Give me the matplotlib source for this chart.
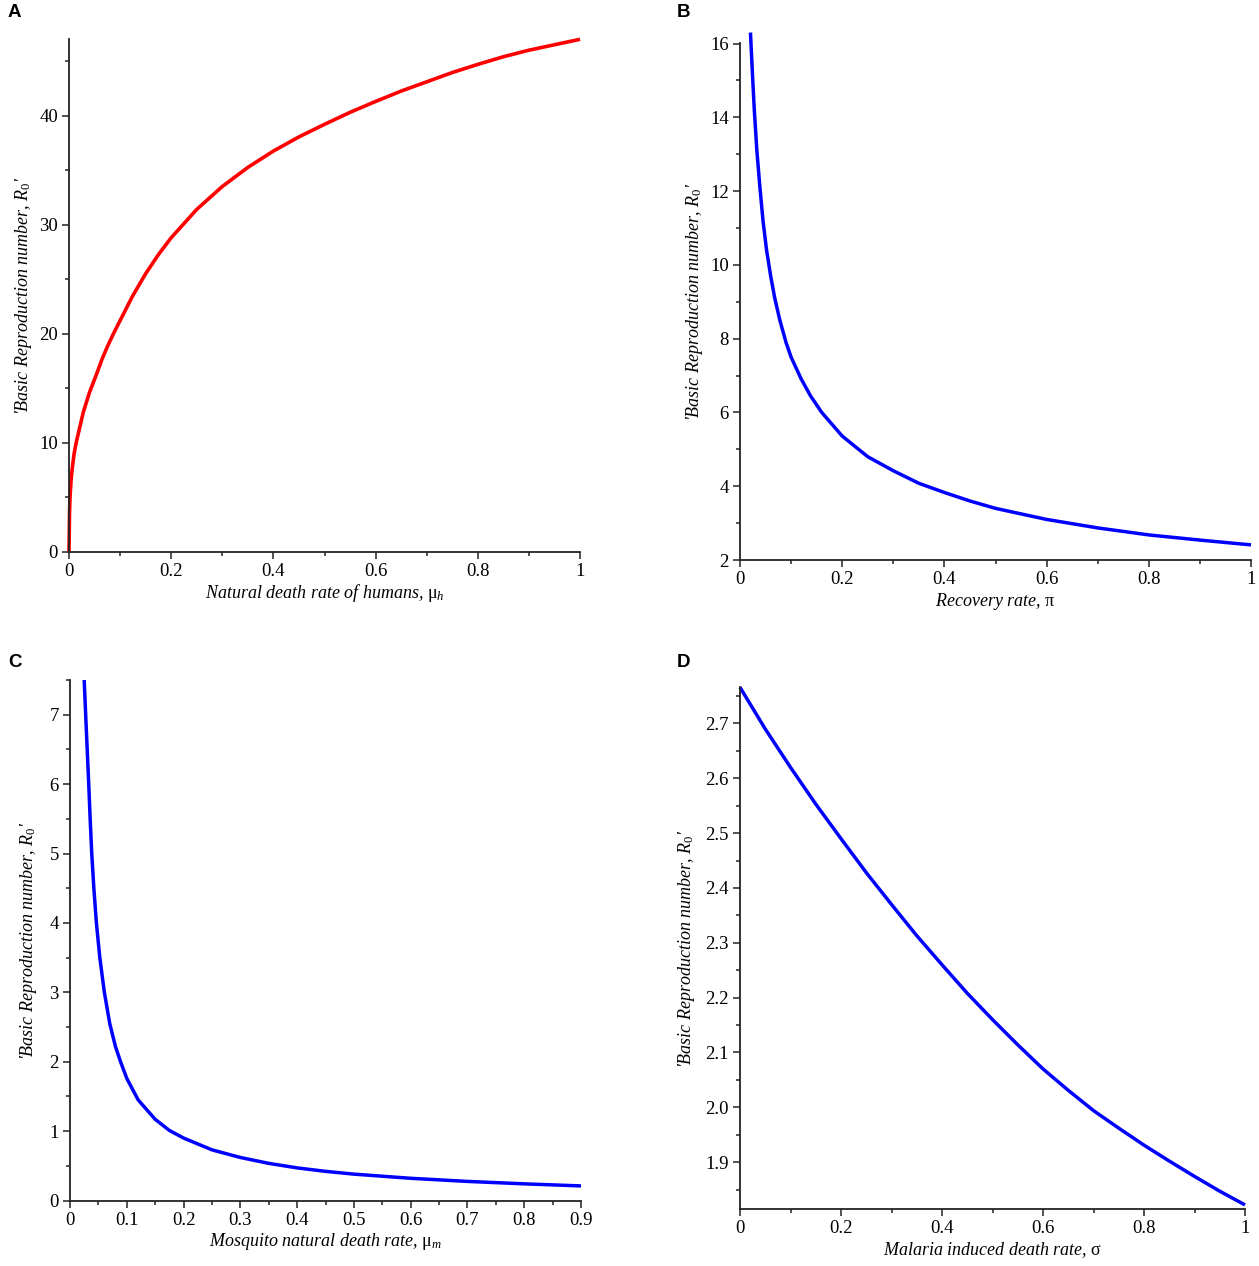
import numpy as np
import matplotlib
matplotlib.use("Agg")
import matplotlib.pyplot as plt
from matplotlib.ticker import MultipleLocator

plt.rcParams['font.family'] = 'serif'
plt.rcParams['font.serif'] = ['Liberation Serif', 'DejaVu Serif']
plt.rcParams['mathtext.fontset'] = 'custom'
plt.rcParams['mathtext.rm'] = 'Liberation Serif'
plt.rcParams['mathtext.it'] = 'Liberation Serif:italic'

# values
# A: natural death rate of humans
mu_h = [0, 0.001, 0.002, 0.004, 0.006, 0.01, 0.014, 0.02, 0.028, 0.04, 0.054,
        0.065, 0.075, 0.0875, 0.1, 0.125, 0.15, 0.175, 0.2, 0.25, 0.3, 0.35,
        0.4, 0.45, 0.5, 0.55, 0.6, 0.65, 0.7, 0.75, 0.8, 0.85, 0.9, 0.95, 1.0]
r0_mu_h = [0, 3.5, 5.0, 6.5, 7.5, 9.0, 10.0, 11.2, 12.8, 14.6, 16.3,
           17.7, 18.8, 20.05, 21.2, 23.5, 25.5, 27.25, 28.8, 31.4, 33.5, 35.25,
           36.75, 38.05, 39.2, 40.3, 41.3, 42.25, 43.1, 43.95, 44.7, 45.4, 46.0,
           46.5, 47.0]

# B: recovery rate
pi_rate = [0.0205, 0.0215, 0.025, 0.028, 0.033, 0.039, 0.045, 0.052, 0.06,
           0.068, 0.078, 0.09, 0.1, 0.12, 0.138, 0.16, 0.2, 0.25, 0.3, 0.35,
           0.4, 0.45, 0.5, 0.6, 0.7, 0.8, 0.9, 1.0]
r0_pi = [16.3, 16.0, 15.0, 14.2, 13.1, 12.1, 11.2, 10.4, 9.7,
         9.1, 8.5, 7.9, 7.5, 6.9, 6.45, 6.0, 5.36, 4.8, 4.42, 4.08,
         3.83, 3.6, 3.40, 3.10, 2.87, 2.68, 2.54, 2.41]

# C: mosquito natural death rate
mu_m = [0.025, 0.0276, 0.0303, 0.033, 0.0355, 0.0383, 0.042, 0.0465, 0.0525,
        0.0605, 0.07, 0.08, 0.089, 0.1, 0.12, 0.15, 0.175, 0.2, 0.25, 0.3,
        0.35, 0.4, 0.45, 0.5, 0.6, 0.7, 0.8, 0.9]
r0_mu_m = [7.5, 7.0, 6.5, 6.0, 5.5, 5.0, 4.5, 4.0, 3.5,
           3.0, 2.55, 2.22, 2.0, 1.76, 1.45, 1.17, 1.01, 0.90, 0.73, 0.62,
           0.535, 0.47, 0.42, 0.38, 0.32, 0.275, 0.24, 0.21]

# D: malaria induced death rate
sigma = [0, 0.05, 0.1, 0.15, 0.2, 0.25, 0.3, 0.35, 0.4, 0.45, 0.5,
         0.55, 0.6, 0.65, 0.7, 0.75, 0.8, 0.85, 0.9, 0.95, 1.0]
r0_sigma = [2.766, 2.690, 2.620, 2.553, 2.490, 2.428, 2.370, 2.313, 2.260,
            2.208, 2.160, 2.114, 2.070, 2.031, 1.994, 1.962, 1.931, 1.902,
            1.874, 1.847, 1.822]

W, H = 1259, 1266
fig = plt.figure(figsize=(W / 100, H / 100), dpi=100)


def rect(left, right, top, bottom):
    return [left / W, 1 - bottom / H, (right - left) / W, (bottom - top) / H]


ylab = r"'Basic Reproduction number, $R_0$'"


def style(ax, xlabel, xmaj, xmin, ymaj, ymin, ylab_x, xfmt, yfmt):
    for s in ['top', 'right']:
        ax.spines[s].set_visible(False)
    for s in ['left', 'bottom']:
        ax.spines[s].set_linewidth(1.3)
        ax.spines[s].set_color('#222222')
    ax.xaxis.set_major_locator(MultipleLocator(xmaj))
    ax.xaxis.set_minor_locator(MultipleLocator(xmin))
    ax.yaxis.set_major_locator(MultipleLocator(ymaj))
    ax.yaxis.set_minor_locator(MultipleLocator(ymin))
    ax.xaxis.set_major_formatter(xfmt)
    ax.yaxis.set_major_formatter(yfmt)
    ax.tick_params(which='major', direction='out', length=5, width=1.1,
                   color='#222222', labelsize=13.5, pad=3)
    ax.tick_params(which='minor', direction='out', length=3, width=1.1,
                   color='#222222')
    ax.set_xlabel(xlabel, fontsize=13, fontstyle='italic')
    ax.set_ylabel(ylab, fontsize=13, fontstyle='italic')
    h = ax.get_position().height * H
    ax.xaxis.set_label_coords(0.5, -41 / h)
    ax.xaxis.label.set_verticalalignment('center')
    ax.yaxis.set_label_coords(ylab_x, 0.5)
    ax.yaxis.label.set_verticalalignment('center')


def fmt_x(v, pos):
    if abs(v) < 1e-9:
        return '0'
    if abs(v - 1) < 1e-9:
        return '1'
    return f'{v:.1f}'


def fmt_int(v, pos):
    return f'{v:.0f}'


def fmt_1(v, pos):
    return f'{v:.1f}'


line_kw = dict(clip_on=False, solid_joinstyle='round', solid_capstyle='butt')

# A
axA = fig.add_axes(rect(69, 580, 39.3, 551.7))
axA.plot(mu_h, r0_mu_h, color='#ff0000', lw=2.6, **line_kw)
axA.set_xlim(0, 1)
axA.set_ylim(0, 47)
style(axA, r'Natural death rate of humans, $\mathrm{\mu}_h$', 0.2, 0.1, 10, 5,
      -0.09, fmt_x, fmt_int)

# B
axB = fig.add_axes(rect(740, 1251, 42.5, 560))
axB.plot(pi_rate, r0_pi, color='#0000ff', lw=2.5, **line_kw)
axB.set_xlim(0, 1)
axB.set_ylim(2, 16.03)
style(axB, r'Recovery rate, $\mathrm{\pi}$', 0.2, 0.1, 2, 1,
      -0.09, fmt_x, fmt_int)

# C
axC = fig.add_axes(rect(70, 581, 680, 1200.5))
axC.plot(mu_m, r0_mu_m, color='#0000ff', lw=2.5, **line_kw)
axC.set_xlim(0, 0.9)
axC.set_ylim(0, 7.5)
style(axC, r'Mosquito natural death rate, $\mathrm{\mu}_m$', 0.1, 0.05, 1, 0.5,
      -0.081, fmt_x, fmt_int)

# D
axD = fig.add_axes(rect(740, 1245, 687.3, 1209.3))
axD.plot(sigma, r0_sigma, color='#0000ff', lw=2.5, **line_kw)
axD.set_xlim(0, 1)
axD.set_ylim(1.814, 2.766)
style(axD, r'Malaria induced death rate, $\mathrm{\sigma}$', 0.2, 0.1, 0.1, 0.05,
      -0.105, fmt_x, fmt_1)

# panel letters
for letter, px, py in [('A', 8, 4), ('B', 677, 4), ('C', 8, 654), ('D', 677, 654)]:
    fig.text(px / W, 1 - py / H, letter, fontsize=13.5, fontweight='bold',
             family='Liberation Sans', ha='left', va='top')

fig.savefig('out.png', dpi=100)
